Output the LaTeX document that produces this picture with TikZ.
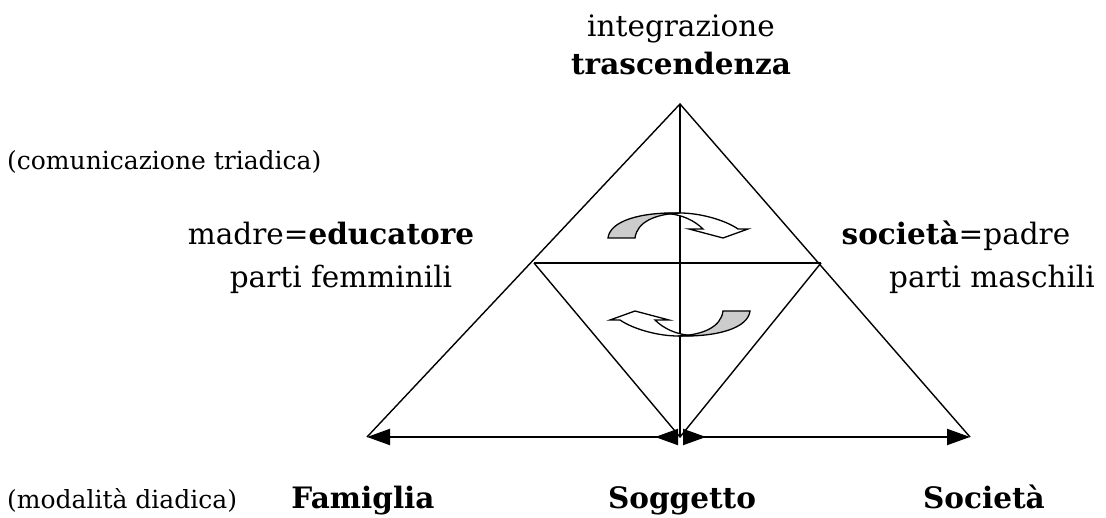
\documentclass[tikz,border=0pt]{standalone}
\usepackage{fontspec}
\setmainfont{DejaVu Serif}
\usetikzlibrary{arrows.meta}
\definecolor{ribbongray}{RGB}{204,204,204}
\newcommand{\ribbonarrow}{%
  \filldraw[ribbon, fill=white]
    (680,213) .. controls (700,213) and (725,220) .. (738,229)
    -- (748,229) -- (723,238) -- (689,229) -- (703,229)
    .. controls (695,221) and (682,214) .. (665,213.5) -- cycle;
  \filldraw[ribbon, fill=ribbongray]
    (608,238) .. controls (610,221) and (640,212) .. (680,213)
    .. controls (655,214) and (637,222) .. (635,238) -- cycle;
}
\begin{document}
\begin{tikzpicture}[x=1pt,y=-1pt,
  big/.style={font=\fontsize{29.5}{35}\selectfont, inner sep=0pt, anchor=base},
  small/.style={font=\fontsize{25}{30}\selectfont, inner sep=0pt, anchor=base west},
  edge/.style={line width=1.4pt, line join=miter},
  ribbon/.style={line width=1.3pt, line join=miter},
  headtip/.tip={Triangle[length=23pt,width=16pt]},
  backtip/.tip={Triangle[length=23pt,width=16pt,reversed]},
  dimline/.style={line width=2pt}]
\useasboundingbox (0,0) rectangle (1106,518);

% corners
\coordinate (A) at (680,104);
\coordinate (L) at (367,437);
\coordinate (R) at (970,437);
\coordinate (B) at (680,437);
\coordinate (ML) at (534,263);
\coordinate (MR) at (821,263);
\coordinate (CL) at (678,437);
\coordinate (CR) at (683,437);

% triangles
\draw[edge] (L) -- (A) -- (R);
\draw[edge] (A) -- (B);
\draw[edge] (ML) -- (MR);
\draw[edge] (ML) -- (B) -- (MR);

% bottom arrows
\draw[dimline, headtip-backtip] (L) -- (CL);
\draw[dimline, backtip-headtip] (CR) -- (R);

% curved arrows
\ribbonarrow
\begin{scope}[rotate around={180:(679,274.5)}]
\ribbonarrow
\end{scope}

% texts
\node[big] (integ) at (681,37) {integrazione};
\node[big] (trasc) at (681,75) {\textbf{trascendenza}};
\node[small] (comun) at (7,170) {(comunicazione triadica)};
\node[big] (madre) at (331,245) {madre=\textbf{educatore}};
\node[big] (femm) at (341,288) {parti femminili};
\node[big] (socpad) at (956,245) {\textbf{società}=padre};
\node[big] (masch) at (992,288) {parti maschili};
\node[small] (modal) at (7,508) {(modalità diadica)};
\node[big] (fam) at (363,508) {\textbf{Famiglia}};
\node[big] (sogg) at (682,508) {\textbf{Soggetto}};
\node[big] (soc) at (984,508) {\textbf{Società}};
\end{tikzpicture}
\end{document}
